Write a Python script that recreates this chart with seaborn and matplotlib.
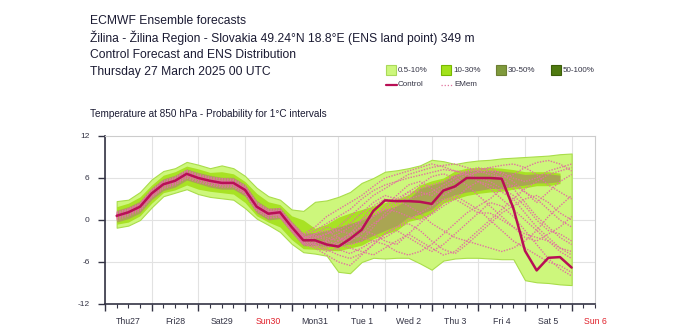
import numpy as np
import pandas as pd
import matplotlib
matplotlib.use("Agg")
import matplotlib.pyplot as plt
import matplotlib.transforms as mtransforms
from matplotlib.patches import Rectangle
from matplotlib.lines import Line2D
import seaborn as sns

# ---------------- data ----------------
hours = list(range(6, 241, 6))  # 6-hourly steps from Thu 27 Mar 06 UTC

day_labels = ["Thu27", "Fri28", "Sat29", "Sun30", "Mon31", "Tue 1",
              "Wed 2", "Thu 3", "Fri 4", "Sat 5", "Sun 6"]
y_ticks = [-12, -6, 0, 6, 12]

control = [0.6, 1.1, 1.9, 3.8, 5.1, 5.6, 6.6, 6.0, 5.6, 5.3, 5.3, 4.3, 1.9, 0.9, 1.1, -1.0,
           -2.9, -2.9, -3.5, -3.8, -2.7, -1.4, 1.3, 2.8, 2.7, 2.7, 2.6, 2.3, 4.2, 4.8,
           6.0, 6.0, 6.0, 5.9, 1.7, -4.4, -7.2, -5.4, -5.3, -6.8]

# 0.5 % contour (outer envelope of the distribution)
p005_hi = [2.7, 2.9, 4.0, 5.8, 7.0, 7.4, 8.3, 7.9, 7.4, 7.8, 7.4, 6.3, 4.6, 3.4, 2.9, 1.5,
           1.3, 2.6, 2.8, 3.3, 4.0, 5.3, 6.0, 6.9, 7.1, 7.4, 7.8, 8.6, 8.4, 8.0,
           8.3, 8.5, 8.6, 8.8, 8.9, 9.0, 9.1, 9.2, 9.4, 9.5]
p005_lo = [-1.1, -0.8, 0.0, 1.8, 3.4, 3.9, 4.4, 3.7, 3.3, 3.1, 2.9, 1.7, 0.2, -0.7, -1.7, -3.4,
           -4.6, -4.8, -5.1, -7.4, -7.6, -6.0, -5.4, -5.5, -5.4, -5.4, -6.2, -7.1, -5.8, -5.5,
           -5.4, -5.4, -5.5, -5.6, -5.6, -8.6, -8.9, -9.0, -9.2, -9.3]

# 10 % contour
p10_hi = [1.9, 2.4, 3.3, 5.0, 6.4, 6.9, 7.7, 7.3, 6.8, 6.9, 6.6, 5.5, 3.8, 2.6, 2.2, 0.6,
          0.0, -1.2, -0.6, 0.4, 1.0, 1.5, 2.0, 2.5, 3.0, 3.6, 5.0, 5.6, 6.0, 7.0,
          7.4, 7.5, 7.5, 7.4, 7.2, 6.9, 6.9, 6.9, 6.7, np.nan]
p10_lo = [-0.6, -0.3, 0.6, 2.4, 3.9, 4.3, 5.0, 4.4, 4.1, 3.9, 3.7, 2.5, 0.6, -0.3, -1.0, -2.8,
          -4.1, -4.2, -4.3, -4.4, -4.0, -3.6, -2.7, -2.0, -1.5, -0.2, 0.2, 1.0, 2.4, 3.0,
          3.5, 3.8, 4.0, 4.1, 4.4, 4.6, 4.9, 4.9, 5.2, np.nan]

# 30 % contour
p30_hi = [1.4, 1.9, 2.7, 4.6, 5.9, 6.4, 7.3, 6.8, 6.4, 6.1, 6.1, 5.1, 2.8, 1.7, 1.8, -0.2,
          -1.9, -1.8, -1.5, -1.0, -0.5, 0.0, 0.8, 1.5, 2.0, 3.0, 4.5, 5.0, 5.5, 6.5,
          7.0, 7.1, 7.1, 7.0, 6.8, 6.5, 6.6, 6.6, 6.4, np.nan]
p30_lo = [-0.3, 0.2, 1.0, 2.9, 4.2, 4.7, 5.7, 5.2, 4.7, 4.4, 4.4, 3.4, 1.0, 0.0, 0.2, -1.8,
          -3.7, -3.6, -3.8, -3.8, -3.4, -3.0, -2.2, -1.5, -0.8, 0.4, 0.8, 1.5, 3.0, 3.6,
          4.0, 4.2, 4.5, 4.5, 4.8, 5.0, 5.3, 5.3, 5.5, np.nan]

# ensemble members (estimated traces)
members = {
    "m1": [1.0, 1.5, 2.3, 4.2, 5.5, 6.0, 7.0, 6.4, 6.0, 5.8, 5.7, 4.8, 2.4, 1.4, 1.3, -0.5,
           -2.2, -1.5, -0.5, 0.5, 1.5, 3.0, 4.2, 5.0, 5.5, 6.0, 6.4, 6.8, 7.2, 7.0,
           6.8, 7.2, 7.5, 7.8, 8.0, 7.5, 6.5, 5.0, 4.0, 3.0],
    "m2": [0.2, 0.8, 1.5, 3.3, 4.6, 5.2, 6.1, 5.6, 5.1, 4.9, 4.8, 3.8, 1.4, 0.3, 0.4, -1.6,
           -3.4, -3.8, -4.2, -5.0, -5.5, -4.8, -3.5, -2.0, -1.0, -0.5, -1.5, -3.0, -4.2, -4.8,
           -3.5, -2.0, -0.5, 1.0, 2.0, 3.0, 3.5, 2.5, 1.0, 0.0],
    "m3": [0.8, 1.3, 2.0, 3.9, 5.3, 5.9, 6.8, 6.2, 5.8, 5.5, 5.6, 4.5, 2.2, 1.1, 1.4, -0.6,
           -2.5, -2.4, -2.8, -2.0, -1.0, 0.0, 1.0, 1.5, 1.2, 0.5, 0.0, 0.8, 2.0, 3.0,
           4.5, 5.5, 5.0, 4.0, 3.0, 1.0, -1.0, -2.5, -4.0, -5.0],
    "m4": [0.4, 0.9, 1.7, 3.5, 4.8, 5.4, 6.3, 5.8, 5.3, 5.1, 5.0, 4.0, 1.6, 0.6, 0.7, -1.3,
           -3.1, -3.3, -3.0, -2.5, -3.0, -2.0, -0.5, 0.5, 2.0, 3.5, 4.5, 5.0, 5.5, 6.3,
           6.6, 6.0, 5.5, 4.5, 3.5, 2.0, 0.0, -1.5, -2.0, -3.0],
    "m5": [0.5, 1.2, 2.0, 3.7, 5.0, 5.5, 6.5, 6.1, 5.7, 5.4, 5.2, 4.1, 1.7, 0.8, 0.9, -1.1,
           -2.8, -3.5, -4.5, -4.0, -3.0, -1.5, -2.0, -3.0, -3.5, -2.0, -0.5, 1.0, 2.5, 3.5,
           2.5, 1.5, 0.0, -1.5, -3.0, -4.0, -5.0, -6.0, -6.5, -7.5],
    "m6": [0.7, 1.0, 1.8, 3.6, 5.2, 5.7, 6.7, 6.1, 5.5, 5.2, 5.4, 4.4, 2.0, 1.0, 0.8, -0.8,
           -2.6, -2.0, -1.5, -2.5, -3.5, -3.0, -1.0, 1.0, 2.5, 4.0, 5.0, 6.2, 6.6, 6.0,
           5.0, 3.5, 2.0, 0.5, -1.0, -2.5, -3.0, -2.0, -1.0, 0.5],
    "m7": [0.3, 1.0, 1.9, 3.9, 5.0, 5.6, 6.4, 5.9, 5.6, 5.3, 5.1, 4.2, 1.8, 0.7, 1.0, -1.2,
           -3.0, -2.6, -2.0, -1.5, -0.5, 1.0, 2.5, 3.5, 3.0, 2.0, 1.0, -0.5, -1.5, -2.5,
           -3.0, -3.5, -4.0, -4.5, -4.0, -3.0, -1.5, 0.5, 2.0, 3.5],
    "m8": [0.6, 1.4, 2.2, 4.0, 5.3, 5.8, 6.6, 6.2, 5.7, 5.6, 5.4, 4.6, 2.1, 1.2, 1.2, -0.7,
           -2.3, -3.0, -3.8, -3.5, -2.2, -0.8, 0.5, 2.0, 3.5, 5.0, 5.5, 4.5, 3.5, 4.5,
           6.0, 7.0, 7.5, 6.5, 5.5, 4.0, 2.5, 4.0, 5.5, 6.5],
    "m9": [0.9, 1.2, 2.1, 3.8, 5.1, 5.5, 6.5, 6.0, 5.5, 5.2, 5.2, 4.3, 1.9, 0.9, 1.0, -0.9,
           -2.7, -3.2, -3.2, -4.2, -4.8, -4.0, -3.0, -2.5, -1.5, -2.5, -3.5, -4.5, -3.5, -2.0,
           -0.5, 1.0, 2.5, 2.0, 0.5, -1.5, -3.5, -5.5, -7.0, -8.0],
    "m10": [0.5, 1.0, 1.8, 3.7, 5.0, 5.5, 6.6, 6.0, 5.6, 5.3, 5.3, 4.3, 1.9, 0.9, 1.1, -1.0,
            -2.9, -2.5, -2.0, -1.0, 0.5, 2.0, 3.5, 4.5, 5.5, 6.5, 7.0, 7.5, 7.8, 8.0,
            7.5, 7.0, 6.5, 6.0, 6.5, 7.5, 8.2, 8.5, 8.0, 7.0],
    "m11": [0.0, 0.6, 1.3, 3.2, 4.5, 5.0, 6.0, 5.4, 5.0, 4.7, 4.7, 3.7, 1.3, 0.3, 0.5, -1.6,
            -3.5, -4.0, -5.0, -6.0, -6.5, -5.0, -3.5, -2.0, -1.0, 0.0, 1.0, 2.0, 3.0, 3.0,
            2.0, 1.0, 1.0, 0.0, -1.0, -2.0, -2.5, -3.0, -4.0, -4.5],
    "m12": [1.1, 1.6, 2.4, 4.3, 5.6, 6.1, 7.1, 6.5, 6.1, 5.9, 5.8, 4.9, 2.5, 1.5, 1.6, -0.4,
            -2.0, -1.0, 0.5, 1.5, 2.5, 3.5, 4.8, 6.0, 6.5, 7.0, 7.5, 8.0, 7.6, 7.0,
            6.5, 5.5, 4.5, 3.0, 1.5, 0.0, -1.5, -3.0, -4.5, -5.5],
    "m13": [0.4, 1.1, 1.6, 3.6, 4.9, 5.3, 6.4, 5.9, 5.4, 5.1, 5.1, 4.0, 1.7, 0.7, 0.6, -1.4,
            -3.3, -3.6, -3.0, -3.5, -4.0, -4.5, -5.0, -4.0, -3.0, -2.0, -3.0, -4.0, -5.0, -4.5,
            -3.0, -1.5, 0.0, 1.5, 3.0, 4.5, 5.5, 6.5, 7.0, 7.5],
    "m14": [0.8, 1.5, 2.2, 4.1, 5.4, 5.9, 6.9, 6.3, 5.9, 5.6, 5.6, 4.6, 2.2, 1.2, 1.3, -0.6,
            -2.5, -2.0, -1.0, -1.5, -2.0, -1.0, 0.5, 1.5, 3.0, 4.0, 4.0, 3.5, 4.5, 5.5,
            6.5, 6.8, 7.0, 6.8, 6.0, 5.5, 6.0, 7.0, 7.5, 8.0],
    "m15": [0.3, 0.9, 1.7, 3.5, 4.9, 5.4, 6.3, 5.8, 5.4, 5.0, 5.0, 4.1, 1.6, 0.6, 0.8, -1.2,
            -3.2, -3.5, -4.0, -3.0, -2.0, -2.5, -3.0, -3.5, -4.5, -5.0, -4.5, -3.5, -2.0, -0.5,
            1.0, 2.0, 3.0, 4.5, 5.0, 4.0, 3.0, 1.5, 0.0, -1.0],
    "m16": [0.7, 1.2, 2.0, 3.9, 5.2, 5.7, 6.8, 6.2, 5.7, 5.5, 5.4, 4.5, 2.1, 1.0, 1.2, -0.8,
            -2.6, -2.2, -2.5, -3.0, -2.0, 0.0, 2.0, 3.0, 2.5, 3.0, 3.5, 4.0, 5.0, 6.0,
            7.0, 7.5, 7.0, 6.0, 4.5, 2.5, 0.5, -1.0, -2.5, -3.5],
}

legend_labels = ["0.5-10%", "10-30%", "30-50%", "50-100%"]

# ---------------- style ----------------
C005 = "#cdf77c"
C005_EDGE = "#a9dd4a"
C10 = "#a8e224"
C30 = "#aaa553"
C50 = "#4f7a10"
CTRL = "#b80f55"
EMEM = "#e0749e"
TXT = "#1b1b33"

sns.set_theme(style="white")
plt.rcParams["font.family"] = ["Liberation Sans", "DejaVu Sans"]

fig = plt.figure(figsize=(7.0, 3.34), dpi=100)
ax = fig.add_axes([105 / 700, 1 - 304 / 334, 490 / 700, 168 / 334])

x = np.array(hours, dtype=float)
ax.fill_between(x, p005_lo, p005_hi, color=C005, edgecolor=C005_EDGE, lw=0.8, zorder=2)
ax.fill_between(x, p10_lo, p10_hi, color=C10, lw=0, zorder=3)
ax.fill_between(x, p30_lo, p30_hi, color=C30, lw=0, zorder=4)

df = pd.DataFrame([(k, h, t) for k, vals in members.items() for h, t in zip(hours, vals)],
                  columns=["member", "hour", "temp"])
sns.lineplot(data=df, x="hour", y="temp", units="member", estimator=None,
             color=EMEM, lw=1.0, linestyle=(0, (1, 1.0)), legend=False, ax=ax, zorder=5)
sns.lineplot(x=hours, y=control, color=CTRL, lw=1.8, ax=ax, zorder=6)

ax.set_xlim(0, 252)
ax.set_ylim(-12, 12)
ax.set_xlabel("")
ax.set_ylabel("")

ax.set_xticks(list(range(0, 241, 24)))
ax.set_xticks(list(range(0, 253, 6)), minor=True)
ax.set_xticklabels([])
ax.tick_params(axis="x", which="major", direction="out", length=5, width=1, color="#333344", bottom=True)
ax.tick_params(axis="x", which="minor", direction="out", length=3, width=0.8, color="#333344", bottom=True)
ax.set_yticks(y_ticks)
ax.set_yticklabels([str(v) for v in y_ticks], fontsize=6, color="#333344")
ax.tick_params(axis="y", direction="out", length=5, width=1, color="#333344", left=True, pad=6)

for d in range(0, 241, 24):
    ax.axvline(d, color="#e2e2e2", lw=0.8, zorder=0)
for v in (-6, 0, 6):
    ax.axhline(v, color="#e2e2e2", lw=0.8, zorder=0)

trans = mtransforms.blended_transform_factory(ax.transData, ax.transAxes)
for i, lab in enumerate(day_labels):
    col = "#e0202a" if lab.startswith("Sun") else "#333344"
    ax.text(12 + 24 * i, -0.105, lab, transform=trans, ha="center", va="center",
            fontsize=6.3, color=col, clip_on=False)

for side in ("left", "bottom"):
    ax.spines[side].set_color("#333344")
    ax.spines[side].set_linewidth(1.2)
for side in ("top", "right"):
    ax.spines[side].set_color("#cccccc")
    ax.spines[side].set_linewidth(0.8)

# ---------------- titles ----------------
title_lines = ["ECMWF Ensemble forecasts",
               "Žilina - Žilina Region - Slovakia 49.24°N 18.8°E (ENS land point) 349 m",
               "Control Forecast and ENS Distribution",
               "Thursday 27 March 2025 00 UTC"]
for i, t in enumerate(title_lines):
    fig.text(90 / 700, 1 - (21 + 17 * i) / 334, t, fontsize=8.7, color=TXT,
             ha="left", va="center")
fig.text(90 / 700, 1 - 114 / 334, "Temperature at 850 hPa - Probability for 1°C intervals",
         fontsize=7.2, color=TXT, ha="left", va="center")

# ---------------- legend ----------------
sw_colors = [C005, "#a2e21a", "#7f9a3c", C50]
sw_edges = ["#a9d95a", "#78b800", "#6d7f33", "#3c5e08"]
for i, (lab, c, e) in enumerate(zip(legend_labels, sw_colors, sw_edges)):
    x0 = 386 + 55 * i
    fig.add_artist(Rectangle((x0 / 700, 1 - 75 / 334), 10 / 700, 10 / 334,
                             transform=fig.transFigure, facecolor=c, edgecolor=e, lw=0.8))
    fig.text((x0 + 12) / 700, 1 - 70 / 334, lab, fontsize=5.8, color="#333344",
             ha="left", va="center")
fig.add_artist(Line2D([386 / 700, 397 / 700], [1 - 85 / 334, 1 - 85 / 334],
                      transform=fig.transFigure, color=CTRL, lw=1.6))
fig.text(398 / 700, 1 - 85 / 334, "Control", fontsize=5.8, color="#333344", ha="left", va="center")
fig.add_artist(Line2D([441 / 700, 452 / 700], [1 - 85 / 334, 1 - 85 / 334],
                      transform=fig.transFigure, color=EMEM, lw=0.9, linestyle=(0, (1, 1.5))))
fig.text(454 / 700, 1 - 85 / 334, "EMem", fontsize=5.8, color="#333344", ha="left", va="center")

fig.savefig("out.png", dpi=100)
